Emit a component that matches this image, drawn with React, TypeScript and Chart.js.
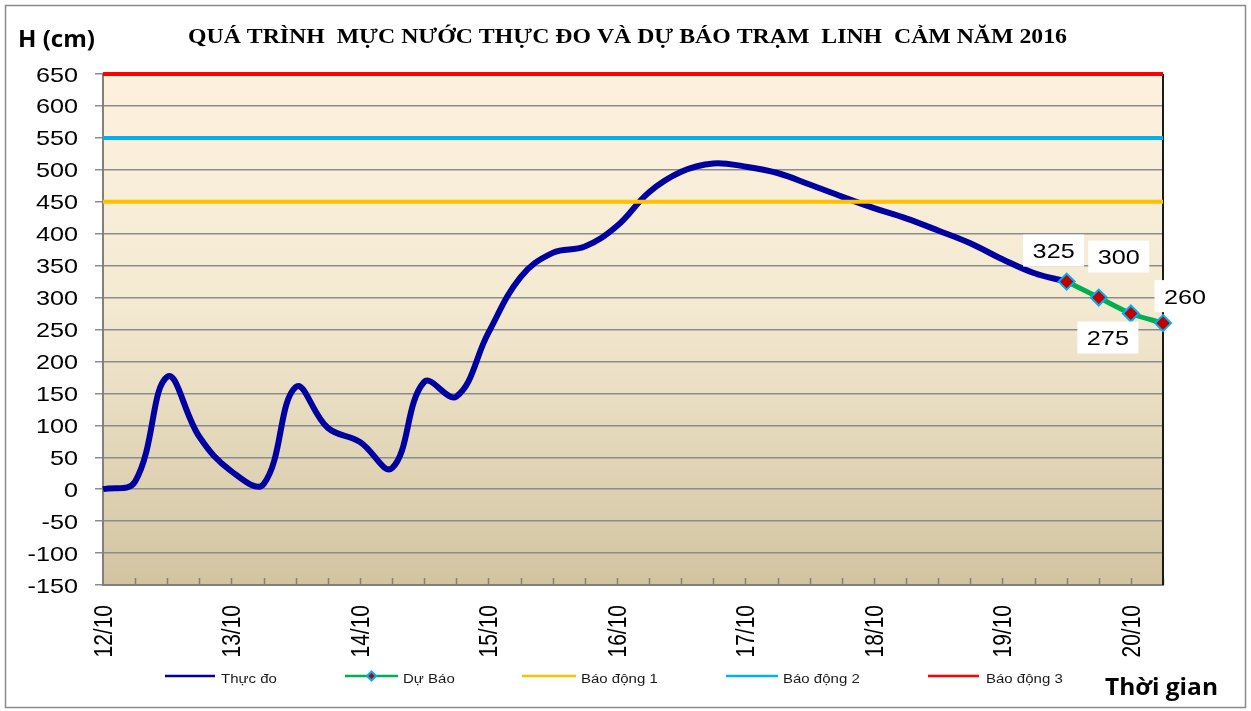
import React, { useEffect, useRef } from "react";
import { Chart, registerables } from "chart.js";
Chart.register(...registerables);

const categories = [
  "12/10 00h", "12/10 06h", "12/10 12h", "12/10 18h",
  "13/10 00h", "13/10 06h", "13/10 12h", "13/10 18h",
  "14/10 00h", "14/10 06h", "14/10 12h", "14/10 18h",
  "15/10 00h", "15/10 06h", "15/10 12h", "15/10 18h",
  "16/10 00h", "16/10 06h", "16/10 12h", "16/10 18h",
  "17/10 00h", "17/10 06h", "17/10 12h", "17/10 18h",
  "18/10 00h", "18/10 06h", "18/10 12h", "18/10 18h",
  "19/10 00h", "19/10 06h", "19/10 12h", "19/10 18h",
  "20/10 00h", "20/10 06h",
];

const dayLabels = ["12/10", "13/10", "14/10", "15/10", "16/10", "17/10", "18/10", "19/10", "20/10"];

const observed = [
  0, 12, 176, 82, 28, 8, 160, 96, 74, 33, 168, 145, 245, 332, 370, 380, 412,
  465, 497, 510, 505, 495, 477, 458, 440, 424, 405, 385, 360, 338, 325,
  null, null, null,
];

const forecast = [
  null, null, null, null, null, null, null, null, null, null, null, null,
  null, null, null, null, null, null, null, null, null, null, null, null,
  null, null, null, null, null, null, 325, 300, 275, 260,
];

const alarm1 = 450;
const alarm2 = 550;
const alarm3 = 650;

const yTickValues = [650, 600, 550, 500, 450, 400, 350, 300, 250, 200, 150, 100, 50, 0, -50, -100, -150];

const titleText = "QUÁ TRÌNH  MỰC NƯỚC THỰC ĐO VÀ DỰ BÁO TRẠM  LINH  CẢM NĂM 2016";
const yAxisTitle = "H (cm)";
const xAxisTitle = "Thời gian";
const seriesNames = ["Thực đo", "Dự Báo", "Báo động 1", "Báo động 2", "Báo động 3"];

const C_OBS = "#0000A0";
const C_FC = "#00B050";
const C_A1 = "#FFC000";
const C_A2 = "#00B0F0";
const C_A3 = "#FF0000";

const SX = 1.2;

function drawStretched(ctx: CanvasRenderingContext2D, text: string, x: number, y: number, font: string, sx: number, align: CanvasTextAlign) {
  ctx.save();
  ctx.font = font;
  ctx.translate(x, y);
  ctx.scale(sx, 1);
  ctx.textAlign = align;
  ctx.textBaseline = "alphabetic";
  ctx.fillText(text, 0, 0);
  ctx.restore();
}

function drawFit(ctx: CanvasRenderingContext2D, text: string, left: number, right: number, y: number, font: string) {
  ctx.save();
  ctx.font = font;
  const w = ctx.measureText(text).width;
  const sx = (right - left) / w;
  ctx.restore();
  drawStretched(ctx, text, left, y, font, sx, "left");
}

const chartPlugin = {
  id: "customDecor",
  beforeDraw(chart: any) {
    const ctx: CanvasRenderingContext2D = chart.ctx;
    const { left, right, top, bottom } = chart.chartArea;
    ctx.save();
    ctx.fillStyle = "#ffffff";
    ctx.fillRect(0, 0, chart.width, chart.height);
    ctx.strokeStyle = "#8a8a8a";
    ctx.lineWidth = 1.5;
    ctx.strokeRect(5.5, 5.5, 1240, 702);
    const g = ctx.createLinearGradient(0, top, 0, bottom);
    g.addColorStop(0, "#FDF1DE");
    g.addColorStop(0.45, "#F4EAD2");
    g.addColorStop(1, "#D2C4A1");
    ctx.fillStyle = g;
    ctx.fillRect(left, top, right - left, bottom - top);
    ctx.restore();
  },
  beforeDatasetsDraw(chart: any) {
    const ctx: CanvasRenderingContext2D = chart.ctx;
    const { right, top, bottom } = chart.chartArea;
    const xs = chart.scales.x;
    ctx.save();
    ctx.strokeStyle = "#808080";
    ctx.lineWidth = 1.5;
    for (let i = 1; i < categories.length; i++) {
      const x = Math.round(xs.getPixelForValue(i)) + 0.5;
      ctx.beginPath();
      ctx.moveTo(x, bottom);
      ctx.lineTo(x, bottom - 7);
      ctx.stroke();
    }
    ctx.strokeStyle = "#1a1a1a";
    ctx.lineWidth = 2;
    ctx.beginPath();
    ctx.moveTo(right, top);
    ctx.lineTo(right, bottom);
    ctx.stroke();
    ctx.restore();
  },
  afterDraw(chart: any) {
    const ctx: CanvasRenderingContext2D = chart.ctx;
    const xs = chart.scales.x;
    const ys = chart.scales.y;
    ctx.save();
    ctx.fillStyle = "#000000";
    // title
    drawFit(ctx, titleText, 188, 1067, 43, "bold 22px 'Liberation Serif'");
    // axis titles
    drawFit(ctx, yAxisTitle, 18, 95, 47, "bold 24px 'Open Sans'");
    drawFit(ctx, xAxisTitle, 1105, 1218, 695, "bold 23px 'Open Sans'");
    // y tick labels
    for (const v of yTickValues) {
      const y = ys.getPixelForValue(v);
      drawStretched(ctx, String(v), 78, y + 7.5, "21px 'Liberation Sans'", SX, "right");
    }
    // x tick labels (rotated)
    categories.forEach((c, i) => {
      const day = c.split(" ")[0];
      if (c.endsWith("00h") && dayLabels.includes(day)) {
        const x = xs.getPixelForValue(i);
        ctx.save();
        ctx.translate(x, 605);
        ctx.rotate(-Math.PI / 2);
        ctx.scale(1, SX);
        ctx.font = "21px 'Liberation Sans'";
        ctx.textAlign = "right";
        ctx.textBaseline = "alphabetic";
        ctx.fillText(day, 0, 7.5);
        ctx.restore();
      }
    });
    // data labels
    const meta = chart.getDatasetMeta(1);
    const labelOffsets = [[-13, -31], [20, -41], [-23, 24], [22, -27]];
    let k = 0;
    forecast.forEach((v, i) => {
      if (v === null) return;
      const pt = meta.data[i];
      const off = labelOffsets[k++] || [0, -30];
      const cx = pt.x + off[0];
      const cy = pt.y + off[1];
      const font = "21px 'Liberation Sans'";
      ctx.font = font;
      const w = ctx.measureText(String(v)).width * SX;
      const bw = w + 19;
      const bh = 32;
      ctx.fillStyle = "#ffffff";
      ctx.fillRect(cx - bw / 2, cy - bh / 2, bw, bh);
      ctx.fillStyle = "#000000";
      drawStretched(ctx, String(v), cx, cy + 7.5, font, SX, "center");
    });
    // legend
    const legend = [
      { name: seriesNames[0], color: C_OBS, x0: 165, x1: 215, tx: 221, marker: false },
      { name: seriesNames[1], color: C_FC, x0: 345, x1: 398, tx: 403, marker: true },
      { name: seriesNames[2], color: C_A1, x0: 522, x1: 576, tx: 581, marker: false },
      { name: seriesNames[3], color: C_A2, x0: 726, x1: 778, tx: 783, marker: false },
      { name: seriesNames[4], color: C_A3, x0: 928, x1: 979, tx: 986, marker: false },
    ];
    const ly = 676;
    for (const it of legend) {
      ctx.strokeStyle = it.color;
      ctx.lineWidth = 2.5;
      ctx.beginPath();
      ctx.moveTo(it.x0, ly);
      ctx.lineTo(it.x1, ly);
      ctx.stroke();
      if (it.marker) {
        const mx = (it.x0 + it.x1) / 2;
        ctx.fillStyle = "#C00000";
        ctx.strokeStyle = C_A2;
        ctx.lineWidth = 2;
        ctx.beginPath();
        ctx.moveTo(mx, ly - 4.5);
        ctx.lineTo(mx + 4.5, ly);
        ctx.lineTo(mx, ly + 4.5);
        ctx.lineTo(mx - 4.5, ly);
        ctx.closePath();
        ctx.fill();
        ctx.stroke();
      }
      ctx.fillStyle = "#1a1a1a";
      drawStretched(ctx, it.name, it.tx, ly + 7, "12.5px 'Liberation Sans'", SX, "left");
    }
    ctx.restore();
  },
};

export default function App() {
  const ref = useRef<HTMLCanvasElement | null>(null);
  useEffect(() => {
    document.body.style.margin = "0";
    document.body.style.overflow = "hidden";
    const canvas = ref.current;
    if (!canvas) return;
    const first = categories[0];
    const last = categories[categories.length - 1];
    const chart = new Chart(canvas, {
      type: "line",
      data: {
        labels: categories,
        datasets: [
          {
            label: seriesNames[0],
            data: observed,
            borderColor: C_OBS,
            borderWidth: 6,
            pointRadius: 0,
            tension: 0.4,
            order: 5,
            spanGaps: false,
          },
          {
            label: seriesNames[1],
            data: forecast,
            borderColor: C_FC,
            borderWidth: 5,
            pointStyle: "rectRot",
            pointRadius: 8,
            pointBackgroundColor: "#C00000",
            pointBorderColor: C_A2,
            pointBorderWidth: 2,
            tension: 0.3,
            clip: false as any,
            order: 0,
          },
          {
            label: seriesNames[2],
            data: [{ x: first, y: alarm1 }, { x: last, y: alarm1 }] as any,
            borderColor: C_A1,
            borderWidth: 4,
            pointRadius: 0,
            clip: false as any,
            order: 1,
          },
          {
            label: seriesNames[3],
            data: [{ x: first, y: alarm2 }, { x: last, y: alarm2 }] as any,
            borderColor: C_A2,
            borderWidth: 4,
            pointRadius: 0,
            clip: false as any,
            order: 1,
          },
          {
            label: seriesNames[4],
            data: [{ x: first, y: alarm3 }, { x: last, y: alarm3 }] as any,
            borderColor: C_A3,
            borderWidth: 4,
            pointRadius: 0,
            clip: false as any,
            order: 1,
          },
        ],
      },
      options: {
        responsive: false,
        animation: false,
        devicePixelRatio: 1,
        layout: { padding: { left: 0, right: 88, top: 74, bottom: 0 } },
        plugins: {
          legend: { display: false },
          title: { display: false },
          tooltip: { enabled: false },
        },
        scales: {
          x: {
            type: "category",
            offset: false,
            grid: { display: false },
            border: { display: true, color: "#808080", width: 2 },
            ticks: { display: false, autoSkip: false },
            afterFit: (s: any) => { s.height = 126; },
          },
          y: {
            min: -150,
            max: 650,
            ticks: { display: false, stepSize: 50 },
            grid: { color: "#8c8c8c", lineWidth: 1.5, tickLength: 8, drawTicks: true },
            border: { display: true, color: "#808080", width: 2 },
            afterFit: (s: any) => { s.width = 103; },
          },
        },
      },
      plugins: [chartPlugin],
    });
    return () => chart.destroy();
  }, []);
  return (
    <div style={{ width: 1251, height: 711, position: "relative" }}>
      <canvas ref={ref} width={1251} height={711} style={{ display: "block" }} />
    </div>
  );
}
